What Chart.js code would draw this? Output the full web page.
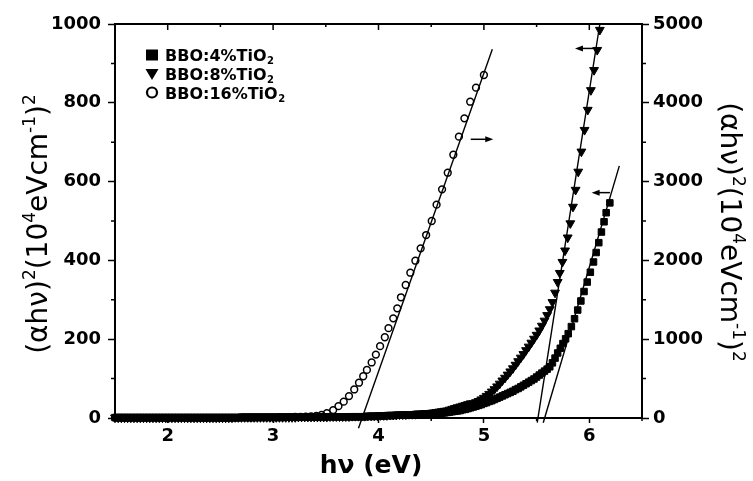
<!DOCTYPE html>
<html>
<head>
<meta charset="utf-8">
<script src="https://cdn.jsdelivr.net/npm/chart.js@4/dist/chart.umd.min.js"></script>
<style>
  html, body { margin: 0; padding: 0; background: #fff; }
  #wrap { width: 753px; height: 481px; }
</style>
</head>
<body>
<div id="wrap"><canvas id="c" width="753" height="481"></canvas></div>
<script>
// Photon energy (eV) and (alpha h nu)^2 for the three glasses.
// 4% and 8% TiO2 use the left axis, 16% TiO2 the right axis.

// Sub-gap region shared by the 4% and 8% samples
const lowEnergy = [
  1.50,1.53,1.56,1.59,1.62,1.65,1.68,1.71,1.74,1.77,
  1.80,1.83,1.86,1.89,1.92,1.95,1.98,2.01,2.04,2.07,
  2.10,2.13,2.16,2.19,2.22,2.25,2.28,2.31,2.34,2.37,
  2.40,2.43,2.46,2.49,2.52,2.55,2.58,2.61,2.64,2.67,
  2.70,2.73,2.76,2.79,2.82,2.85,2.88,2.91,2.94,2.97,
  3.00,3.03,3.06,3.09,3.12,3.15,3.18,3.21,3.24,3.27,
  3.30,3.33,3.36,3.39,3.42,3.45,3.48,3.51,3.54,3.57,
  3.60,3.63,3.66,3.69,3.72,3.75,3.78,3.81,3.84,3.87,
  3.90,3.93,3.96,3.99,4.02,4.05,4.08,4.11,4.14,4.17,
  4.20,4.23,4.26,4.29,4.32,4.35,4.38,4.41,4.44,4.47
];

// Absorption edge region, read densely where the markers merge
const edgeEnergy = [
  4.500,4.525,4.550,4.575,4.600,4.625,4.650,4.675,4.700,4.725,
  4.750,4.775,4.800,4.825,4.850,4.875,4.900,4.925,4.950,4.975,
  5.000,5.025,5.050,5.075,5.100,5.125,5.150,5.175,5.200,5.225,
  5.250,5.275,5.300,5.325,5.350,5.375,5.400,5.425,5.450,5.475,
  5.500,5.525,5.550,5.575,5.600,5.625,5.650,5.675,5.700
];

const energy4 = lowEnergy.concat(edgeEnergy, [
  5.725,5.750,5.775,5.800,5.830,5.860,5.890,5.920,5.950,5.980,
  6.010,6.040,6.065,6.090,6.115,6.140,6.160,6.195
]);
const alpha4 = [
  1,1,1,1,1,1,1,1,1,1,
  1,1,1,1,1,1,1,1,1,1,
  1,1,1,1,1,1,1,1,1,1,
  1,1,1,1,1,1,1,1,1,1,
  2,2,2,2,2,2,2,2,2,2,
  2,2,2,2,2,2,2,2,2,2,
  2,2,2,2,2,3,3,3,3,3,
  3,3,3,3,3,3,3,3,3,3,
  4,4,4,5,5,5,6,6,6,7,
  7,7,8,8,8,9,9,9,10,10,
  10,10,11,11,12,13,14,15,16,17,
  18,19,21,22,24,26,28,30,32,34,
  37,39,42,44,47,50,53,56,59,62,
  65,68,72,75,79,83,87,91,95,99,
  104,109,114,119,124,130,140,152,165,
  177,189,201,214,232,252,274,297,321,345,
  370,396,420,445,472,498,521,546
];

const energy8 = lowEnergy.concat(edgeEnergy, [
  5.720,5.745,5.770,5.795,5.820,5.845,5.870,5.895,5.925,5.955,
  5.985,6.015,6.045,6.075,6.100
]);
const alpha8 = [
  1,1,1,1,1,1,1,1,1,1,
  1,1,1,1,1,1,1,1,1,1,
  1,1,1,1,1,1,1,1,1,1,
  1,1,1,1,1,1,1,1,2,2,
  2,2,2,2,2,2,2,2,2,2,
  2,2,2,2,2,2,2,2,3,3,
  3,3,3,3,3,3,3,3,4,4,
  4,4,4,4,4,5,5,5,5,5,
  6,6,6,6,7,7,7,8,8,8,
  9,9,9,10,10,10,11,11,12,12,
  13,14,15,16,17,18,19,21,23,25,
  27,29,31,33,35,37,37,40,43,47,
  51,56,61,67,73,80,87,95,102,110,
  118,126,135,144,153,162,172,181,191,201,
  211,222,234,247,261,276,294,318,345,
  368,396,425,458,494,536,579,625,676,731,
  782,832,883,934,985
];

const energy16 = [
  1.50,1.53,1.56,1.59,1.62,1.65,1.68,1.71,1.74,1.77,
  1.80,1.83,1.86,1.89,1.92,1.95,1.98,2.01,2.04,2.07,
  2.10,2.13,2.16,2.19,2.22,2.25,2.28,2.31,2.34,2.37,
  2.40,2.43,2.46,2.49,2.52,2.55,2.58,2.61,2.64,2.67,
  2.70,2.73,2.76,2.79,2.82,2.85,2.88,2.91,2.94,2.97,
  3.00,3.03,3.06,3.09,3.12,3.15,3.18,3.21,
  3.26,3.31,3.36,3.41,3.46,
  3.51,3.57,3.62,3.67,3.72,3.77,3.815,3.855,3.89,3.935,
  3.975,4.015,4.06,4.095,4.14,4.178,4.213,4.258,4.302,4.350,
  4.400,4.452,4.505,4.551,4.603,4.657,4.710,4.763,4.815,4.870,
  4.925,5.00
];
const alpha16 = [
  5,5,5,5,5,5,5,5,5,5,
  5,5,5,5,5,5,5,5,5,5,
  5,5,5,5,5,5,5,5,5,5,
  6,6,6,6,6,6,6,6,6,6,
  7,7,7,7,7,8,8,8,8,9,
  9,9,10,10,11,11,12,13,
  15,17,20,26,38,
  60,100,150,207,278,362,448,530,610,705,
  805,912,1025,1140,1265,1392,1532,1688,1844,1996,
  2153,2322,2500,2707,2902,3113,3341,3570,3803,4014,
  4192,4353
];

// Straight-line extrapolations of the absorption edges (end points)
const fit4Energy = [5.563, 6.285];
const fit4Value = [-12, 640];
const fit8Energy = [5.506, 6.100];
const fit8Value = [-12, 1000];
const fit16Energy = [3.810, 5.080];
const fit16Value = [-131, 4679];

// Arrows pointing each curve to its axis: tail energy, head energy, level, axis
const arrowTail = [4.875, 6.038, 6.196];
const arrowHead = [5.089, 5.864, 6.022];
const arrowLevel = [3537, 938, 572];
const arrowAxis = ['y2', 'y', 'y'];

// Tick values
const xTicks = [2, 3, 4, 5, 6];
const xMinor = [1.5, 2.5, 3.5, 4.5, 5.5, 6.5];
const yTicks = [0, 200, 400, 600, 800, 1000];
const yMinor = [100, 300, 500, 700, 900];
const y2Ticks = [0, 1000, 2000, 3000, 4000, 5000];
const y2Minor = [500, 1500, 2500, 3500, 4500];

const seriesNames = ['BBO:4%TiO', 'BBO:8%TiO', 'BBO:16%TiO'];

const pairs = (xs, ys) => xs.map((x, i) => ({ x: x, y: ys[i] }));

const FONT = '"DejaVu Sans", "Liberation Sans", Arial, sans-serif';

function drawRich(ctx, parts, size, weight) {
  // parts: [text, kind] with kind 0 normal, 1 superscript, 2 subscript
  const fontFor = k => `${weight} ${k ? Math.round(size * 0.62) : size}px ${FONT}`;
  let total = 0;
  const widths = parts.map(([t, k]) => { ctx.font = fontFor(k); const w = ctx.measureText(t).width; total += w; return w; });
  let x = -total / 2;
  parts.forEach(([t, k], i) => {
    ctx.font = fontFor(k);
    const dy = k === 1 ? -size * 0.42 : (k === 2 ? size * 0.22 : 0);
    ctx.fillText(t, x, dy);
    x += widths[i];
  });
}

const titleParts = [['(\u03b1h\u03bd)', 0], ['2', 1], ['(10', 0], ['4', 1], ['eVcm', 0], ['-1', 1], [')', 0], ['2', 1]];

const decorations = {
  id: 'decorations',
  afterDraw(chart) {
    const ctx = chart.ctx;
    const a = chart.chartArea;
    const xs = chart.scales.x, yl = chart.scales.y, yr = chart.scales.y2;
    ctx.save();
    ctx.strokeStyle = '#000';
    ctx.fillStyle = '#000';

    // top frame line
    ctx.lineWidth = 2;
    ctx.beginPath();
    ctx.moveTo(a.left - 1, a.top);
    ctx.lineTo(a.right + 1, a.top);
    ctx.stroke();

    ctx.lineWidth = 1.5;
    ctx.beginPath();
    xTicks.forEach(v => { const p = xs.getPixelForValue(v); ctx.moveTo(p, a.top); ctx.lineTo(p, a.top + 6); });
    xMinor.forEach(v => {
      const p = xs.getPixelForValue(v);
      ctx.moveTo(p, a.top); ctx.lineTo(p, a.top + 3);
      ctx.moveTo(p, a.bottom); ctx.lineTo(p, a.bottom + 3);
    });
    yMinor.forEach(v => { const p = yl.getPixelForValue(v); ctx.moveTo(a.left, p); ctx.lineTo(a.left - 4, p); });
    y2Minor.forEach(v => { const p = yr.getPixelForValue(v); ctx.moveTo(a.right, p); ctx.lineTo(a.right + 4, p); });
    ctx.stroke();

    // arrows
    ctx.lineWidth = 1.5;
    arrowTail.forEach((t, i) => {
      const sc = chart.scales[arrowAxis[i]];
      const y = sc.getPixelForValue(arrowLevel[i]);
      const x1 = xs.getPixelForValue(t), x2 = xs.getPixelForValue(arrowHead[i]);
      const dir = Math.sign(x2 - x1);
      ctx.beginPath();
      ctx.moveTo(x1, y); ctx.lineTo(x2 - dir * 6, y);
      ctx.stroke();
      ctx.beginPath();
      ctx.moveTo(x2, y); ctx.lineTo(x2 - dir * 8, y - 3); ctx.lineTo(x2 - dir * 8, y + 3);
      ctx.closePath(); ctx.fill();
    });

    // legend
    const lx = 152, rows = [55, 74, 92.5];
    ctx.beginPath(); ctx.rect(lx - 6, rows[0] - 5.5, 12, 11); ctx.fill();
    ctx.beginPath(); ctx.moveTo(lx - 6.5, rows[1] - 5); ctx.lineTo(lx + 6.5, rows[1] - 5); ctx.lineTo(lx, rows[1] + 6); ctx.closePath(); ctx.fill();
    ctx.lineWidth = 2.2;
    ctx.beginPath(); ctx.arc(lx, rows[2], 5, 0, Math.PI * 2); ctx.stroke();
    ctx.textBaseline = 'alphabetic';
    ctx.textAlign = 'left';
    seriesNames.forEach((s, i) => {
      ctx.font = `bold 16px ${FONT}`;
      const base = rows[i] + 6;
      ctx.fillText(s, 165, base);
      const w = ctx.measureText(s).width;
      ctx.font = `bold 10px ${FONT}`;
      ctx.fillText('2', 165 + w + 0.5, base + 3);
    });

    // axis titles
    ctx.textAlign = 'left';
    ctx.textBaseline = 'alphabetic';
    ctx.save();
    ctx.translate(47, 224);
    ctx.rotate(-Math.PI / 2);
    drawRich(ctx, titleParts, 28, 'normal');
    ctx.restore();

    ctx.save();
    ctx.translate(721, 232);
    ctx.rotate(Math.PI / 2);
    drawRich(ctx, titleParts, 28, 'normal');
    ctx.restore();

    ctx.save();
    ctx.translate(371, 473);
    drawRich(ctx, [['h\u03bd (eV)', 0]], 25, 'bold');
    ctx.restore();

    ctx.restore();
  }
};

const markerCommon = { showLine: false, clip: false, pointBorderColor: '#000' };
const lineCommon = { showLine: true, pointRadius: 0, borderColor: '#000', borderWidth: 1.4, clip: false, pointHoverRadius: 0 };
const tickFont = { family: FONT, size: 18, weight: 'bold' };
const plainLabel = v => String(v);

new Chart(document.getElementById('c'), {
  type: 'scatter',
  data: {
    datasets: [
      Object.assign({ label: 'fit4', data: pairs(fit4Energy, fit4Value), yAxisID: 'y' }, lineCommon),
      Object.assign({ label: 'fit8', data: pairs(fit8Energy, fit8Value), yAxisID: 'y' }, lineCommon),
      Object.assign({ label: 'fit16', data: pairs(fit16Energy, fit16Value), yAxisID: 'y2' }, lineCommon),
      Object.assign({
        label: seriesNames[0] + '2', data: pairs(energy4, alpha4), yAxisID: 'y',
        pointStyle: 'rect', pointRadius: 4.6, pointBackgroundColor: '#000', pointBorderWidth: 1
      }, markerCommon),
      Object.assign({
        label: seriesNames[1] + '2', data: pairs(energy8, alpha8), yAxisID: 'y',
        pointStyle: 'triangle', pointRotation: 180, pointRadius: 5.1, pointBackgroundColor: '#000', pointBorderWidth: 1
      }, markerCommon),
      Object.assign({
        label: seriesNames[2] + '2', data: pairs(energy16, alpha16), yAxisID: 'y2',
        pointStyle: 'circle', pointRadius: 3.4, pointBackgroundColor: 'rgba(0,0,0,0)', pointBorderWidth: 1.5
      }, markerCommon)
    ]
  },
  options: {
    responsive: false,
    animation: false,
    devicePixelRatio: 1,
    events: [],
    layout: { padding: { top: 24, left: 0, right: 0, bottom: 0 } },
    plugins: { legend: { display: false }, tooltip: { enabled: false } },
    scales: {
      x: {
        type: 'linear', position: 'bottom', min: 1.5, max: 6.5,
        afterBuildTicks: s => { s.ticks = xTicks.map(v => ({ value: v })); },
        afterFit: s => { s.height = 63; },
        border: { display: true, color: '#000', width: 2 },
        grid: { drawOnChartArea: false, drawTicks: true, tickLength: 5, tickWidth: 1.5, tickColor: '#000' },
        ticks: { color: '#000', padding: 3, maxRotation: 0, font: tickFont, callback: plainLabel }
      },
      y: {
        type: 'linear', position: 'left', min: 0, max: 1000,
        afterBuildTicks: s => { s.ticks = yTicks.map(v => ({ value: v })); },
        afterFit: s => { s.width = 115; },
        border: { display: true, color: '#000', width: 2 },
        grid: { drawOnChartArea: false, drawTicks: true, tickLength: 7, tickWidth: 1.5, tickColor: '#000' },
        ticks: { color: '#000', padding: 7, font: tickFont, callback: plainLabel }
      },
      y2: {
        type: 'linear', position: 'right', min: 0, max: 5000,
        afterBuildTicks: s => { s.ticks = y2Ticks.map(v => ({ value: v })); },
        afterFit: s => { s.width = 111; },
        border: { display: true, color: '#000', width: 2 },
        grid: { drawOnChartArea: false, drawTicks: true, tickLength: 7, tickWidth: 1.5, tickColor: '#000' },
        ticks: { color: '#000', padding: 4, font: tickFont, callback: plainLabel }
      }
    }
  },
  plugins: [decorations]
});
</script>
</body>
</html>
